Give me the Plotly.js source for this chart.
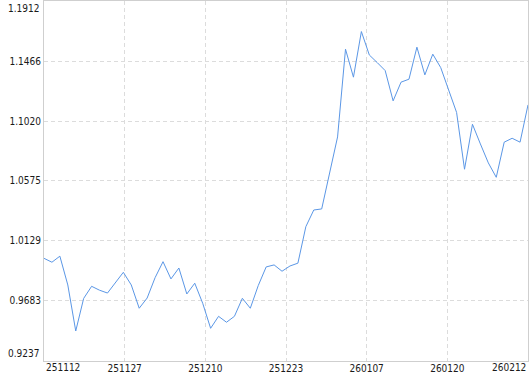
<!DOCTYPE html>
<html>
<head>
<meta charset="utf-8">
<script src="https://cdn.plot.ly/plotly-3.0.1.min.js"></script>
<style>html,body{margin:0;padding:0;background:#fff;}#chart{width:530px;height:374px;}</style>
</head>
<body>
<div id="chart"></div>
<script>
// Data
const values = [
  1.0000, 0.9971, 1.0016, 0.9802, 0.9460, 0.9702, 0.9792, 0.9763, 0.9742, 0.9819,
  0.9896, 0.9802, 0.9629, 0.9705, 0.9856, 0.9975, 0.9847, 0.9928, 0.9735, 0.9815,
  0.9666, 0.9480, 0.9569, 0.9525, 0.9569, 0.9703, 0.9629, 0.9797, 0.9936, 0.9951,
  0.9904, 0.9943, 0.9964, 1.0235, 1.0359, 1.0367, 1.0627, 1.0902, 1.1554, 1.1346,
  1.1685, 1.1511, 1.1454, 1.1395, 1.1170, 1.1309, 1.1331, 1.1569, 1.1363, 1.1517,
  1.1417, 1.1251, 1.1084, 1.0662, 1.0996, 1.0850, 1.0709, 1.0602, 1.0863, 1.0892,
  1.0863, 1.1140
];
const xTickLabels = ['251112', '251127', '251210', '251223', '260107', '260120', '260212'];
const yTickValues = [0.9237, 0.9683, 1.0129, 1.0575, 1.1020, 1.1466, 1.1912];
const yTickLabels = ['0.9237', '0.9683', '1.0129', '1.0575', '1.1020', '1.1466', '1.1912'];

const n = values.length;
const xs = values.map((_, i) => i);
const xTickVals = xTickLabels.map((_, k) => k * (n - 1) / (xTickLabels.length - 1));
const lastX = xTickLabels.length - 1, lastY = yTickLabels.length - 1;

const font = {family: 'DejaVu Sans Condensed, DejaVu Sans, sans-serif', size: 10, color: '#1a1a1a'};
const gridColor = '#dcdcdc';
const lineColor = '#cfcfcf';

const annotations = [
  {xref: 'x', yref: 'paper', x: xTickVals[0], y: 0, xanchor: 'left', yanchor: 'top', yshift: 1,
   text: xTickLabels[0], showarrow: false, font: font},
  {xref: 'x', yref: 'paper', x: xTickVals[lastX], y: 0, xanchor: 'right', yanchor: 'top', yshift: 1,
   text: xTickLabels[lastX], showarrow: false, font: font},
  {xref: 'paper', yref: 'y', x: 0, y: yTickValues[0], xanchor: 'right', yanchor: 'bottom', xshift: -3,
   text: yTickLabels[0], showarrow: false, font: font},
  {xref: 'paper', yref: 'y', x: 0, y: yTickValues[lastY], xanchor: 'right', yanchor: 'top', xshift: -3,
   text: yTickLabels[lastY], showarrow: false, font: font}
];

const trace = {
  x: xs, y: values, type: 'scatter', mode: 'lines',
  line: {color: '#5b97e6', width: 1}, hoverinfo: 'skip'
};

const layout = {
  width: 530, height: 374,
  margin: {l: 44, r: 2, t: 1, b: 13, pad: 0},
  paper_bgcolor: '#ffffff', plot_bgcolor: '#ffffff',
  showlegend: false,
  font: font,
  xaxis: {
    range: [0, n - 1], tickvals: xTickVals,
    ticktext: xTickLabels.map((t, k) => (k === 0 || k === lastX) ? '' : t),
    showgrid: true, gridcolor: gridColor, griddash: '4px,3px', gridwidth: 1,
    showline: true, linecolor: lineColor, linewidth: 1, mirror: true,
    zeroline: false, ticks: '', ticklen: 0, ticklabelstandoff: -2, tickfont: font, fixedrange: true
  },
  yaxis: {
    range: [yTickValues[0], yTickValues[lastY]], tickvals: yTickValues,
    ticktext: yTickLabels.map((t, k) => (k === 0 || k === lastY) ? '' : t),
    showgrid: true, gridcolor: gridColor, griddash: '4px,3px', gridwidth: 1,
    showline: true, linecolor: lineColor, linewidth: 1, mirror: true,
    zeroline: false, ticks: '', ticklen: 0, tickfont: font, fixedrange: true
  },
  annotations: annotations
};

Plotly.newPlot('chart', [trace], layout, {displayModeBar: false, staticPlot: true});
</script>
</body>
</html>
